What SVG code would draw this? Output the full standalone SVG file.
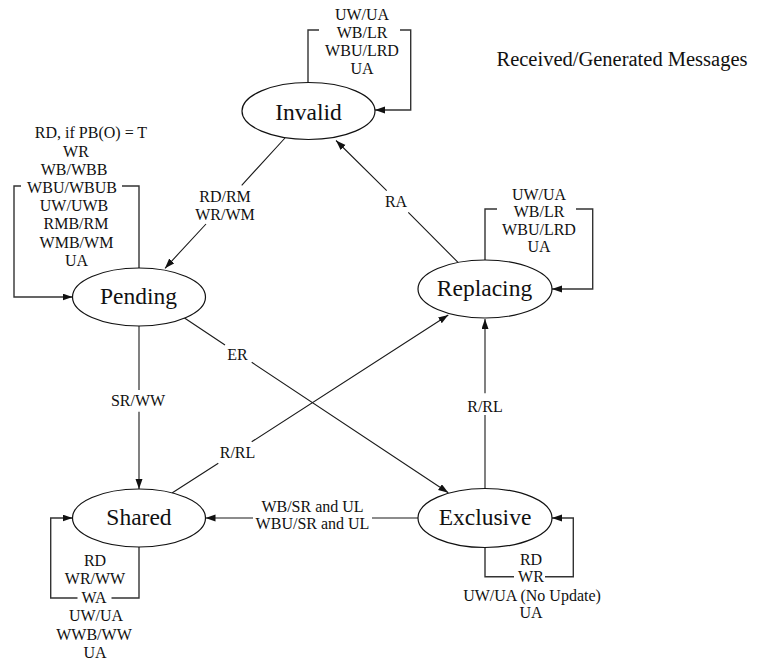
<svg xmlns="http://www.w3.org/2000/svg" width="759" height="662" viewBox="0 0 759 662">
  <style>
    text { font-family: "Liberation Serif", "DejaVu Serif", "Times New Roman", serif; fill: #111111; text-anchor: middle; }
    .node ellipse { fill: #ffffff; stroke: #111111; stroke-width: 1.2; }
    .node text { font-size: 23.5px; }
    .lbl text { font-size: 16px; }
    .title { font-size: 20.5px; }
    .edge { fill: none; stroke: #1a1a1a; stroke-width: 1.1; }
    .loop { fill: none; stroke: #333333; stroke-width: 1.4; }
  </style>
  <defs>
    <marker id="arrow" markerUnits="userSpaceOnUse" markerWidth="11" markerHeight="8" refX="10" refY="3.5" orient="auto">
      <path d="M0,0 L10,3.5 L0,7 z" fill="#111111"/>
    </marker>
  </defs>

  <rect width="759" height="662" fill="#ffffff"/>

  <text class="title" x="622" y="66" font-family="Liberation Serif, DejaVu Serif, serif">Received/Generated Messages</text>

  <!-- transitions -->
  <g id="connectors">
    <!-- Invalid self loop -->
    <path class="loop" d="M308,82 V30 H319 M400,30 H410.7 V110 H375" marker-end="url(#arrow)"/>
    <!-- Pending self loop -->
    <path class="loop" d="M139,268 V186 H122 M21,186 H14 V297 H72.5" marker-end="url(#arrow)"/>
    <!-- Replacing self loop -->
    <path class="loop" d="M485,260 V209 H497 M576,209 H592.7 V289 H552" marker-end="url(#arrow)"/>
    <!-- Shared self loop -->
    <path class="loop" d="M139,547 V598 H111.5 M77.5,598 H50.7 V518 H72.5" marker-end="url(#arrow)"/>
    <!-- Exclusive self loop -->
    <path class="loop" d="M485,547.5 V576.7 H514 M545,576.7 H573.3 V518 H552" marker-end="url(#arrow)"/>

    <!-- Invalid -> Pending -->
    <path class="edge" d="M285,138 L241.7,185.3 M206,224 L165,268.3" marker-end="url(#arrow)"/>
    <!-- Replacing -> Invalid -->
    <path class="edge" d="M458.3,262.7 L408.3,212.3 M386.7,190.7 L336,140.5" marker-end="url(#arrow)"/>
    <!-- Pending -> Shared -->
    <path class="edge" d="M139,326 V390 M139,411.7 V489" marker-end="url(#arrow)"/>
    <!-- Pending -> Exclusive -->
    <path class="edge" d="M183,317 L225,345 M251.7,362.3 L448.3,492.7" marker-end="url(#arrow)"/>
    <!-- Shared -> Replacing -->
    <path class="edge" d="M172,493 L218.3,463.3 M251.7,441.8 L448.3,315" marker-end="url(#arrow)"/>
    <!-- Exclusive -> Replacing -->
    <path class="edge" d="M485,488.5 V415 M485,393.3 V319" marker-end="url(#arrow)"/>
    <!-- Exclusive -> Shared -->
    <path class="edge" d="M418,518 H372 M253,518 H205.5" marker-end="url(#arrow)"/>

    <!-- transition labels -->
    <g class="lbl">
      <text x="362" y="19.5">UW/UA</text>
      <text x="362" y="37.8">WB/LR</text>
      <text x="362" y="55.5">WBU/LRD</text>
      <text x="362" y="73.8">UA</text>

      <text x="91" y="137.8">RD, if PB(O) = T</text>
      <text x="76" y="157">WR</text>
      <text x="74" y="174.8">WB/WBB</text>
      <text x="72" y="192.8">WBU/WBUB</text>
      <text x="74" y="211.2">UW/UWB</text>
      <text x="76" y="228.8">RMB/RM</text>
      <text x="76.5" y="247.8">WMB/WM</text>
      <text x="76.5" y="265.5">UA</text>

      <text x="539" y="199.5">UW/UA</text>
      <text x="539" y="217">WB/LR</text>
      <text x="539" y="234.5">WBU/LRD</text>
      <text x="539" y="252.2">UA</text>

      <text x="95" y="565.5">RD</text>
      <text x="95" y="584">WR/WW</text>
      <text x="94" y="602.5">WA</text>
      <text x="96" y="621">UW/UA</text>
      <text x="94" y="639.5">WWB/WW</text>
      <text x="95" y="658">UA</text>

      <text x="531" y="564.5">RD</text>
      <text x="531" y="582.2">WR</text>
      <text x="532" y="600.5">UW/UA (No Update)</text>
      <text x="531" y="617.8">UA</text>

      <text x="225" y="201.5">RD/RM</text>
      <text x="225" y="219.5">WR/WM</text>
      <text x="396" y="206.5">RA</text>
      <text x="138" y="406.2">SR/WW</text>
      <text x="237.5" y="359.5">ER</text>
      <text x="237.5" y="458.2">R/RL</text>
      <text x="485" y="412.2">R/RL</text>
      <text x="312.5" y="511.5">WB/SR and UL</text>
      <text x="312.5" y="529">WBU/SR and UL</text>
    </g>
  </g>

  <!-- states -->
  <g id="invalid" class="node">
    <ellipse cx="308.5" cy="111" rx="66.5" ry="28.5"/>
    <text x="308.5" y="120">Invalid</text>
  </g>
  <g id="pending" class="node">
    <ellipse cx="139" cy="297" rx="66.5" ry="29"/>
    <text x="138.5" y="304">Pending</text>
  </g>
  <g id="replacing" class="node">
    <ellipse cx="485" cy="289" rx="67" ry="29"/>
    <text x="484.5" y="296">Replacing</text>
  </g>
  <g id="shared" class="node">
    <ellipse cx="139" cy="518" rx="66.5" ry="29"/>
    <text x="139" y="525">Shared</text>
  </g>
  <g id="exclusive" class="node">
    <ellipse cx="485" cy="518" rx="67" ry="29.5"/>
    <text x="485" y="525.3">Exclusive</text>
  </g>
</svg>
